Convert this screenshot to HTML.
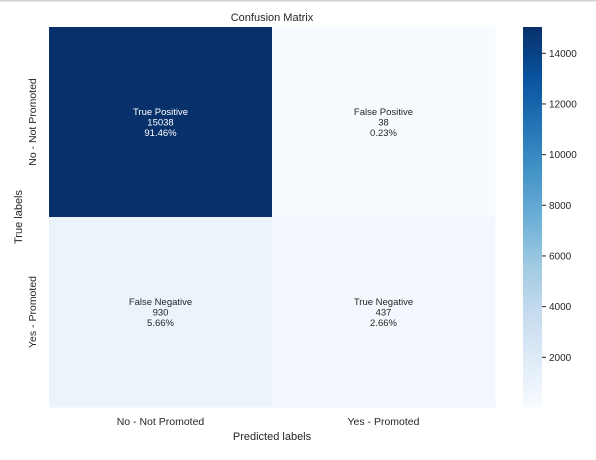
<!DOCTYPE html>
<html><head><meta charset="utf-8"><style>
body{margin:0;background:#fff}
svg{display:block;font-family:"Liberation Sans","DejaVu Sans",sans-serif}
</style></head><body>
<svg id="c" width="596" height="460" xmlns="http://www.w3.org/2000/svg">
<rect x="0" y="0" width="596" height="1.5" fill="#d0d0d0"/>
<text x="272" y="21" text-anchor="middle" font-size="11" fill="#262626">Confusion Matrix</text>
<text x="272" y="440" text-anchor="middle" font-size="11" fill="#262626">Predicted labels</text>
<text transform="translate(22,217) rotate(-90)" text-anchor="middle" font-size="11" fill="#262626">True labels</text>
<defs><linearGradient id="g" x1="0" y1="1" x2="0" y2="0">
<stop offset="0" stop-color="#f7fbff"/><stop offset="0.125" stop-color="#deebf7"/><stop offset="0.25" stop-color="#c6dbef"/><stop offset="0.375" stop-color="#9ecae1"/><stop offset="0.5" stop-color="#6baed6"/><stop offset="0.625" stop-color="#4292c6"/><stop offset="0.75" stop-color="#2171b5"/><stop offset="0.875" stop-color="#08519c"/><stop offset="1" stop-color="#08306b"/>
</linearGradient></defs>
<rect x="523" y="27" width="19" height="380" fill="url(#g)"/>
<g id="cells"></g>
</svg>
<script>
const rowLabels=["No - Not Promoted","Yes - Promoted"];
const colLabels=["No - Not Promoted","Yes - Promoted"];
const counts=[[15038,38],[930,437]];
const cellNames=[["True Positive","False Positive"],["False Negative","True Negative"]];
const colorbarTicks=[2000,4000,6000,8000,10000,12000,14000];
const L=49,T=27,W=446,H=380,NS="http://www.w3.org/2000/svg";
const flat=counts.flat(),total=flat.reduce((a,b)=>a+b,0),vmin=Math.min(...flat),vmax=Math.max(...flat);
const stops=["#f7fbff","#deebf7","#c6dbef","#9ecae1","#6baed6","#4292c6","#2171b5","#08519c","#08306b"];
function hx(h){return [1,3,5].map(i=>parseInt(h.substr(i,2),16));}
function color(v){let t=(v-vmin)/(vmax-vmin);t=Math.max(0,Math.min(1,t));const p=t*8,i=Math.min(7,Math.floor(p)),f=p-i;const a=hx(stops[i]),b=hx(stops[i+1]);return "rgb("+a.map((x,k)=>Math.round(x+(b[k]-x)*f)).join(",")+")";}
function mk(tag,at,txt){const e=document.createElementNS(NS,tag);for(const k in at)e.setAttribute(k,at[k]);if(txt!==undefined)e.textContent=txt;return e;}
const svg=document.getElementById("c"),g=document.getElementById("cells");
const cw=W/colLabels.length,ch=H/rowLabels.length;
counts.forEach((row,r)=>row.forEach((v,c)=>{
  const x=L+c*cw,y=T+r*ch;
  const rc=mk("rect",{x:x,y:y,width:cw+0.5,height:ch+0.5,fill:color(v)});
  
  
  g.appendChild(rc);
  const fill=(v-vmin)/(vmax-vmin)>0.5?"#ffffff":"#262626";
  const lines=[cellNames[r][c],String(v),(v/total*100).toFixed(2)+"%"];
  lines.forEach((s,i)=>{
    const t=mk("text",{x:x+cw/2,y:y+ch/2-(1-i)*10.5+3.5,"text-anchor":"middle","font-size":"9.5",fill:fill},s);
    
    
    svg.appendChild(t);
  });
}));
colLabels.forEach((s,i)=>{
  const t=mk("text",{x:L+cw*(i+0.5),y:425,"text-anchor":"middle","font-size":"10.5",fill:"#262626"},s);
  
  
  svg.appendChild(t);
});
rowLabels.forEach((s,i)=>{
  const t=mk("text",{transform:"translate(36,"+(T+ch*(i+0.5))+") rotate(-90)","text-anchor":"middle","font-size":"10.5",fill:"#262626"},s);
  
  
  svg.appendChild(t);
});
colorbarTicks.forEach(v=>{
  const y=T+H-(v-vmin)/(vmax-vmin)*H;
  const ln=mk("line",{x1:542,x2:546,y1:y,y2:y,stroke:"#262626","stroke-width":"1"});
  
  
  svg.appendChild(ln);
  const t=mk("text",{x:549,y:y+3.5,"font-size":"10","fill":"#262626"},String(v));
  
  
  svg.appendChild(t);
});
</script>
</body></html>
